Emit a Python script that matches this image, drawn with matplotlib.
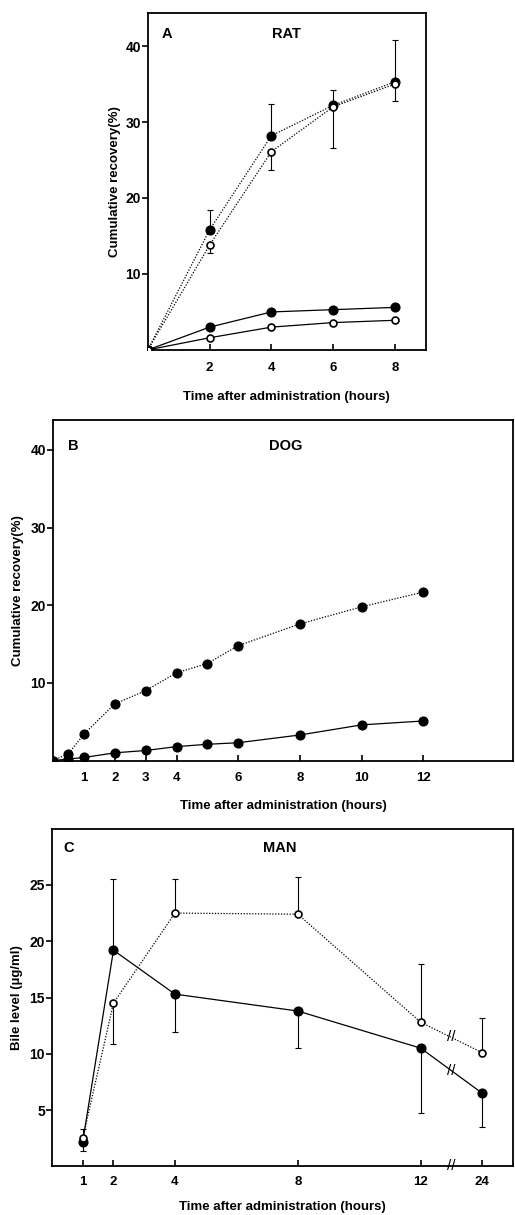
import matplotlib
matplotlib.use("Agg")
import matplotlib.pyplot as plt
import numpy as np

plt.rcParams['font.family'] = ['Liberation Sans', 'DejaVu Sans']
plt.rcParams['font.weight'] = 'bold'
plt.rcParams['axes.labelweight'] = 'bold'

# ---- panel A : rat ----
rat_t = [0, 2, 4, 6, 8]
rat_bile_full = [0, 15.8, 28.2, 32.2, 35.3]      # filled, dotted
rat_bile_full_lo = [0, 0, 0, 5.6, 2.5]
rat_bile_full_hi = [0, 2.6, 4.2, 2.0, 5.5]
rat_bile_open = [0, 13.8, 26.1, 32.0, 35.0]      # open, dotted
rat_bile_open_lo = [0, 1.1, 2.4, 0, 0]
rat_bile_open_hi = [0, 0, 0, 0, 0]
rat_urine_full = [0, 3.0, 5.0, 5.3, 5.6]         # filled, solid
rat_urine_open = [0, 1.6, 3.0, 3.6, 3.9]         # open, solid

# ---- panel B : dog ----
dog_t = [0, 0.5, 1, 2, 3, 4, 5, 6, 8, 10, 12]
dog_bile = [0, 0.9, 3.4, 7.3, 9.0, 11.3, 12.5, 14.8, 17.6, 19.8, 21.7]
dog_urine = [0, 0.2, 0.4, 1.0, 1.3, 1.8, 2.1, 2.3, 3.3, 4.6, 5.1]

# ---- panel C : man ----
man_t = [1, 2, 4, 8, 12, 24]
man_full = [2.2, 19.2, 15.3, 13.8, 10.5, 6.5]
man_full_lo = [0.8, 0, 3.4, 3.3, 5.8, 3.0]
man_full_hi = [1.1, 6.3, 0, 0, 0, 0]
man_open = [2.5, 14.5, 22.5, 22.4, 12.8, 10.1]
man_open_lo = [0, 3.6, 0, 0, 0, 0]
man_open_hi = [0, 0, 3.0, 3.3, 5.2, 3.1]

def hour_pos(h):
    # axis is broken between 12 and 24 h
    return h if h <= 12 else 14

fig = plt.figure(figsize=(5.15, 12.15), dpi=100)

def style(ax, xpad):
    for s in ax.spines.values():
        s.set_linewidth(1.3)
    ax.tick_params(axis='y', direction='out', length=4, width=1.2, labelsize=10, pad=1)
    ax.tick_params(axis='x', direction='in', length=4, width=1.2, labelsize=9.5, pad=xpad)

dots = (0, (1, 1.3))
full = dict(marker='o', ms=6.3, mfc='black', mec='black', color='black', lw=0.9, zorder=3)
hollow = dict(marker='o', ms=5, mfc='white', mec='black', mew=1.2, color='black', lw=0.9, zorder=3)
ebar = dict(fmt='none', ecolor='black', elinewidth=0.8, capsize=2.5, capthick=0.8, zorder=2)
lab = dict(fontsize=10.5, fontweight='bold')

### A ###
axA = fig.add_axes([0.287, 0.712, 0.540, 0.277])
axA.errorbar(rat_t, rat_bile_full, yerr=[rat_bile_full_lo, rat_bile_full_hi], **ebar)
axA.errorbar(rat_t, rat_bile_open, yerr=[rat_bile_open_lo, rat_bile_open_hi], **ebar)
axA.plot(rat_t, rat_bile_full, ls=dots, **full)
axA.plot(rat_t, rat_bile_open, ls=dots, **hollow)
axA.plot(rat_t, rat_urine_full, ls='-', **full)
axA.plot(rat_t, rat_urine_open, ls='-', **hollow)
axA.set_xlim(0, 9)
axA.set_ylim(0, 44.3)
axA.set_xticks([2, 4, 6, 8])
axA.set_yticks([10, 20, 30, 40])
style(axA, 9)
axA.text(0.05, 0.94, 'A', transform=axA.transAxes, va='center', **lab)
axA.text(0.446, 0.94, 'RAT', transform=axA.transAxes, va='center', **lab)
axA.set_xlabel('Time after administration (hours)', fontsize=9.5, labelpad=12)
axA.set_ylabel('Cumulative recovery(%)', fontsize=9.5, labelpad=3)

### B ###
axB = fig.add_axes([0.103, 0.374, 0.893, 0.280])
axB.plot(dog_t, dog_bile, ls=dots, **full)
axB.plot(dog_t, dog_urine, ls='-', **full)
axB.set_xlim(0, 14.9)
axB.set_ylim(0, 43.8)
axB.set_xticks([1, 2, 3, 4, 6, 8, 10, 12])
axB.set_yticks([10, 20, 30, 40])
style(axB, 8)
axB.text(0.033, 0.926, 'B', transform=axB.transAxes, va='center', **lab)
axB.text(0.47, 0.926, 'DOG', transform=axB.transAxes, va='center', **lab)
axB.set_xlabel('Time after administration (hours)', fontsize=9.5, labelpad=12)
axB.set_ylabel('Cumulative recovery(%)', fontsize=9.5, labelpad=5)

### C ###
axC = fig.add_axes([0.101, 0.040, 0.895, 0.278])
xc = [hour_pos(h) for h in man_t]
axC.errorbar(xc, man_full, yerr=[man_full_lo, man_full_hi], **ebar)
axC.errorbar(xc, man_open, yerr=[man_open_lo, man_open_hi], **ebar)
axC.plot(xc, man_full, ls='-', **full)
axC.plot(xc, man_open, ls=dots, **hollow)
axC.set_xlim(0, 15)
axC.set_ylim(0, 30)
axC.set_xticks(xc)
axC.set_xticklabels([str(h) for h in man_t])
axC.set_yticks([5, 10, 15, 20, 25])
style(axC, 7)
# break marks
xm = (xc[-2] + xc[-1]) / 2
brk = dict(ha='center', va='center', fontsize=11, fontweight='normal', zorder=4)
axC.text(xm, (man_full[-2] + man_full[-1]) / 2, '//', **brk)
axC.text(xm, (man_open[-2] + man_open[-1]) / 2, '//', **brk)
axC.text(xm, 0, '//', clip_on=False, **brk)
axC.text(0.024, 0.944, 'C', transform=axC.transAxes, va='center', **lab)
axC.text(0.458, 0.944, 'MAN', transform=axC.transAxes, va='center', **lab)
axC.set_xlabel('Time after administration (hours)', fontsize=9.5, labelpad=9)
axC.set_ylabel('Bile level (\u00b5g/ml)', fontsize=9.5, labelpad=5)

plt.savefig('out.png', dpi=100)
